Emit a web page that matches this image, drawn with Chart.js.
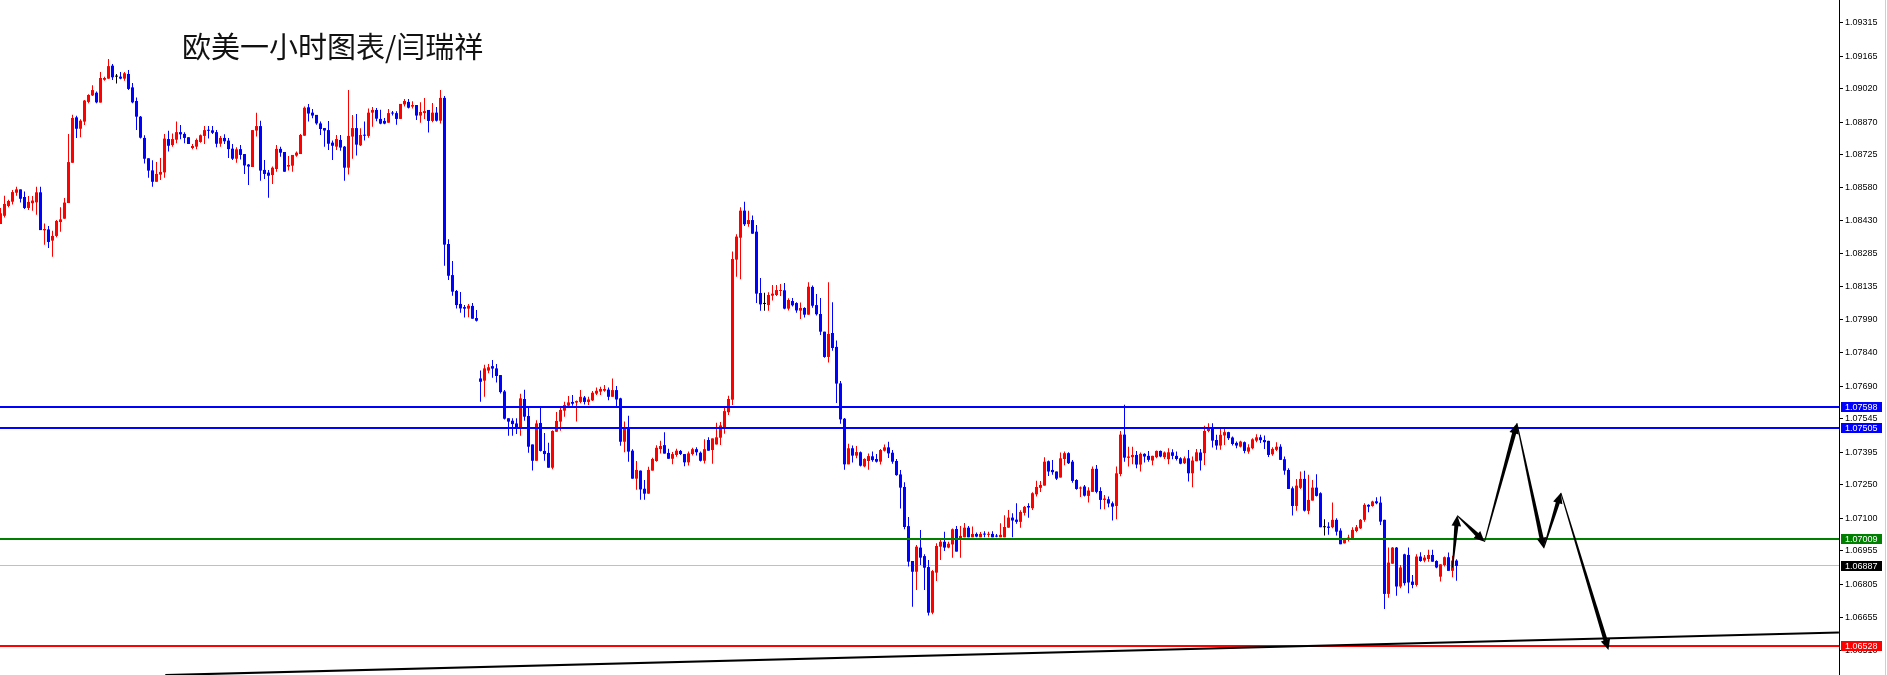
<!DOCTYPE html>
<html>
<head>
<meta charset="utf-8">
<script src="https://cdn.jsdelivr.net/npm/chart.js@4.4.1/dist/chart.umd.min.js"></script>
<style>
	html, body { margin: 0; padding: 0; background: #fff; overflow: hidden; }
	#wrap { width: 1887px; height: 675px; }
</style>
</head>
<body>
<div id="wrap"><canvas id="chart" width="1887" height="675"></canvas></div>
<script>
// EURUSD H1 candles (one candle per hour)
const opens = [
1.08415,1.08452,1.08496,1.08515,1.08555,1.08570,1.08536,1.08487,1.08508,1.08512,
1.08557,1.08387,1.08391,1.08341,1.08362,1.08424,1.08439,1.08509,1.08689,1.08892,
1.08841,1.08873,1.08961,1.08990,1.09002,1.08958,1.09060,1.09065,1.09123,1.09074,
1.09074,1.09065,1.09086,1.09026,1.08965,1.08895,1.08800,1.08709,1.08655,1.08604,
1.08636,1.08646,1.08795,1.08768,1.08792,1.08826,1.08818,1.08803,1.08755,1.08761,
1.08782,1.08809,1.08835,1.08834,1.08826,1.08774,1.08800,1.08788,1.08752,1.08707,
1.08750,1.08728,1.08681,1.08670,1.08833,1.08853,1.08657,1.08645,1.08634,1.08661,
1.08751,1.08737,1.08672,1.08676,1.08721,1.08728,1.08810,1.08937,1.08913,1.08903,
1.08865,1.08844,1.08835,1.08779,1.08761,1.08791,1.08761,1.08667,1.08806,1.08844,
1.08767,1.08813,1.08809,1.08913,1.08925,1.08885,1.08876,1.08868,1.08911,1.08911,
1.08885,1.08950,1.08961,1.08940,1.08947,1.08900,1.08911,1.08925,1.08876,1.08913,
1.08877,1.08979,1.08326,1.08187,1.08116,1.08058,1.08044,1.08037,1.08049,1.07995,
1.07725,1.07715,1.07760,1.07780,1.07770,1.07740,1.07667,1.07547,1.07536,1.07524,
1.07506,1.07633,1.07557,1.07430,1.07357,1.07526,1.07401,1.07392,1.07326,1.07487,
1.07532,1.07581,1.07603,1.07620,1.07617,1.07620,1.07640,1.07620,1.07627,1.07657,
1.07666,1.07670,1.07675,1.07643,1.07673,1.07636,1.07442,1.07502,1.07402,1.07277,
1.07313,1.07232,1.07210,1.07313,1.07356,1.07409,1.07427,1.07392,1.07366,1.07383,
1.07401,1.07387,1.07350,1.07387,1.07409,1.07393,1.07357,1.07450,1.07405,1.07430,
1.07460,1.07505,1.07574,1.07630,1.08256,1.08354,1.08475,1.08415,1.08433,1.08381,
1.08107,1.08058,1.08053,1.08095,1.08098,1.08116,1.08119,1.08037,1.08071,1.08062,
1.08028,1.08040,1.08010,1.08134,1.08053,1.08013,1.07934,1.07821,1.07928,1.07866,
1.07703,1.07545,1.07341,1.07413,1.07380,1.07395,1.07332,1.07356,1.07377,1.07365,
1.07353,1.07402,1.07417,1.07393,1.07356,1.07296,1.07240,1.07065,1.06909,1.06861,
1.06969,1.06931,1.06882,1.06678,1.06857,1.06973,1.06995,1.06969,1.06983,1.07052,
1.07010,1.07015,1.07058,1.07015,1.07030,1.07015,1.07030,1.07026,1.07030,1.07021,
1.07015,1.07015,1.07058,1.07103,1.07094,1.07084,1.07124,1.07155,1.07145,1.07207,
1.07236,1.07246,1.07355,1.07316,1.07309,1.07282,1.07365,1.07391,1.07353,1.07271,
1.07233,1.07242,1.07200,1.07218,1.07321,1.07222,1.07182,1.07185,1.07167,1.07155,
1.07298,1.07474,1.07370,1.07373,1.07383,1.07340,1.07388,1.07379,1.07358,1.07373,
1.07401,1.07373,1.07364,1.07395,1.07379,1.07368,1.07346,1.07368,1.07301,1.07355,
1.07394,1.07391,1.07490,1.07505,1.07450,1.07425,1.07470,1.07485,1.07461,1.07437,
1.07420,1.07440,1.07398,1.07413,1.07447,1.07462,1.07450,1.07446,1.07386,1.07406,
1.07420,1.07364,1.07316,1.07234,1.07155,1.07236,1.07276,1.07133,1.07179,1.07237,
1.07212,1.07060,1.07063,1.07060,1.07093,1.07045,1.06988,1.07003,1.07011,1.07043,
1.07055,1.07093,1.07160,1.07155,1.07176,1.07170,1.07093,1.06762,1.06897,1.06969,
1.06795,1.06939,1.06936,1.06817,1.06802,1.06929,1.06911,1.06918,1.06936,1.06909,
1.06839,1.06891,1.06926,1.06865,1.06911
];
const highs = [
1.08487,1.08542,1.08524,1.08567,1.08582,1.08570,1.08561,1.08540,1.08540,1.08582,
1.08582,1.08418,1.08406,1.08385,1.08433,1.08490,1.08531,1.08818,1.08904,1.08899,
1.08883,1.08969,1.08995,1.09035,1.09008,1.09095,1.09074,1.09153,1.09130,1.09086,
1.09095,1.09095,1.09104,1.09045,1.08981,1.08898,1.08812,1.08709,1.08700,1.08692,
1.08710,1.08818,1.08832,1.08820,1.08873,1.08858,1.08825,1.08803,1.08773,1.08797,
1.08815,1.08853,1.08853,1.08853,1.08835,1.08809,1.08816,1.08800,1.08773,1.08758,
1.08768,1.08728,1.08684,1.08835,1.08913,1.08877,1.08701,1.08657,1.08672,1.08768,
1.08761,1.08737,1.08719,1.08724,1.08739,1.08818,1.08940,1.08952,1.08929,1.08903,
1.08873,1.08844,1.08876,1.08788,1.08813,1.08813,1.08764,1.09014,1.08903,1.08907,
1.08843,1.08873,1.08931,1.08938,1.08934,1.08926,1.08889,1.08929,1.08920,1.08919,
1.08952,1.08974,1.08974,1.08964,1.08947,1.08959,1.08979,1.08925,1.08956,1.08938,
1.09014,1.08987,1.08347,1.08250,1.08120,1.08111,1.08053,1.08058,1.08062,1.08031,
1.07760,1.07786,1.07789,1.07807,1.07789,1.07740,1.07673,1.07547,1.07547,1.07547,
1.07657,1.07675,1.07602,1.07430,1.07538,1.07596,1.07481,1.07438,1.07494,1.07575,
1.07593,1.07621,1.07646,1.07651,1.07626,1.07673,1.07646,1.07643,1.07669,1.07685,
1.07688,1.07696,1.07685,1.07725,1.07691,1.07639,1.07532,1.07558,1.07409,1.07356,
1.07313,1.07271,1.07330,1.07371,1.07426,1.07447,1.07485,1.07411,1.07396,1.07411,
1.07405,1.07387,1.07398,1.07415,1.07418,1.07398,1.07453,1.07462,1.07457,1.07527,
1.07530,1.07602,1.07648,1.08292,1.08369,1.08490,1.08515,1.08475,1.08453,1.08411,
1.08174,1.08108,1.08110,1.08143,1.08143,1.08147,1.08152,1.08083,1.08085,1.08065,
1.08064,1.08043,1.08155,1.08140,1.08102,1.08085,1.07934,1.08155,1.08065,1.07895,
1.07714,1.07548,1.07433,1.07425,1.07423,1.07398,1.07368,1.07390,1.07398,1.07387,
1.07410,1.07430,1.07442,1.07405,1.07365,1.07316,1.07261,1.07106,1.06909,1.06980,
1.07048,1.06939,1.06913,1.06869,1.06988,1.07003,1.07040,1.06995,1.07054,1.07065,
1.07065,1.07079,1.07066,1.07063,1.07036,1.07039,1.07042,1.07040,1.07042,1.07030,
1.07078,1.07113,1.07137,1.07122,1.07167,1.07136,1.07155,1.07167,1.07216,1.07268,
1.07267,1.07373,1.07358,1.07361,1.07309,1.07394,1.07398,1.07395,1.07361,1.07274,
1.07242,1.07249,1.07239,1.07331,1.07338,1.07239,1.07204,1.07197,1.07175,1.07331,
1.07490,1.07607,1.07420,1.07420,1.07401,1.07394,1.07391,1.07401,1.07379,1.07403,
1.07403,1.07398,1.07413,1.07408,1.07398,1.07373,1.07376,1.07405,1.07376,1.07410,
1.07410,1.07513,1.07525,1.07525,1.07473,1.07499,1.07499,1.07487,1.07465,1.07443,
1.07446,1.07443,1.07431,1.07458,1.07476,1.07473,1.07470,1.07446,1.07417,1.07440,
1.07431,1.07376,1.07324,1.07242,1.07276,1.07309,1.07312,1.07294,1.07271,1.07297,
1.07216,1.07096,1.07082,1.07170,1.07100,1.07055,1.07011,1.07026,1.07060,1.07070,
1.07097,1.07167,1.07163,1.07178,1.07194,1.07197,1.07093,1.06969,1.06972,1.06972,
1.06891,1.06942,1.06969,1.06847,1.06939,1.06948,1.06936,1.06959,1.06959,1.06912,
1.06894,1.06929,1.06947,1.06932,1.06917
];
const lows = [
1.08415,1.08444,1.08490,1.08503,1.08542,1.08511,1.08482,1.08478,1.08475,1.08457,
1.08388,1.08323,1.08308,1.08269,1.08356,1.08381,1.08439,1.08509,1.08689,1.08800,
1.08803,1.08858,1.08955,1.08987,1.08955,1.08958,1.09056,1.09065,1.09059,1.09043,
1.09062,1.09056,1.09014,1.08955,1.08835,1.08797,1.08686,1.08622,1.08582,1.08604,
1.08612,1.08622,1.08739,1.08761,1.08776,1.08794,1.08776,1.08773,1.08749,1.08749,
1.08779,1.08773,1.08797,1.08818,1.08758,1.08761,1.08773,1.08710,1.08701,1.08689,
1.08704,1.08639,1.08590,1.08670,1.08806,1.08609,1.08616,1.08533,1.08594,1.08649,
1.08716,1.08649,1.08654,1.08649,1.08716,1.08728,1.08810,1.08873,1.08888,1.08859,
1.08813,1.08761,1.08746,1.08701,1.08746,1.08743,1.08609,1.08636,1.08707,1.08721,
1.08764,1.08788,1.08801,1.08850,1.08874,1.08861,1.08861,1.08868,1.08900,1.08859,
1.08885,1.08940,1.08932,1.08931,1.08880,1.08868,1.08885,1.08824,1.08870,1.08873,
1.08865,1.08229,1.08165,1.08095,1.08038,1.08019,1.07997,1.07998,1.07992,1.07979,
1.07621,1.07643,1.07748,1.07728,1.07707,1.07658,1.07542,1.07469,1.07469,1.07477,
1.07469,1.07536,1.07393,1.07313,1.07357,1.07398,1.07357,1.07326,1.07319,1.07487,
1.07491,1.07554,1.07599,1.07603,1.07532,1.07614,1.07609,1.07606,1.07624,1.07651,
1.07651,1.07666,1.07628,1.07643,1.07602,1.07424,1.07395,1.07353,1.07277,1.07228,
1.07183,1.07183,1.07210,1.07313,1.07353,1.07390,1.07389,1.07366,1.07341,1.07375,
1.07383,1.07332,1.07336,1.07381,1.07381,1.07354,1.07345,1.07402,1.07344,1.07430,
1.07427,1.07478,1.07562,1.07606,1.08180,1.08168,1.08406,1.08403,1.08372,1.08062,
1.08028,1.08028,1.08028,1.08073,1.08094,1.08094,1.08034,1.08029,1.08046,1.08019,
1.07991,1.07997,1.08010,1.08041,1.08006,1.07919,1.07818,1.07796,1.07849,1.07615,
1.07523,1.07317,1.07341,1.07349,1.07368,1.07331,1.07328,1.07317,1.07353,1.07349,
1.07340,1.07398,1.07369,1.07344,1.07290,1.07144,1.07051,1.06884,1.06705,1.06779,
1.06891,1.06779,1.06665,1.06671,1.06820,1.06913,1.06954,1.06966,1.06924,1.06951,
1.06924,1.07015,1.07015,1.07015,1.07015,1.07015,1.07015,1.07015,1.07015,1.07015,
1.07015,1.07015,1.07058,1.07015,1.07076,1.07058,1.07112,1.07102,1.07137,1.07197,
1.07218,1.07246,1.07289,1.07294,1.07271,1.07282,1.07337,1.07343,1.07259,1.07227,
1.07195,1.07197,1.07170,1.07218,1.07212,1.07140,1.07140,1.07149,1.07090,1.07096,
1.07288,1.07353,1.07331,1.07341,1.07324,1.07309,1.07349,1.07353,1.07337,1.07368,
1.07373,1.07365,1.07341,1.07364,1.07358,1.07341,1.07343,1.07264,1.07239,1.07355,
1.07313,1.07338,1.07485,1.07416,1.07406,1.07406,1.07428,1.07450,1.07425,1.07413,
1.07416,1.07391,1.07388,1.07409,1.07440,1.07437,1.07410,1.07374,1.07380,1.07401,
1.07361,1.07294,1.07231,1.07112,1.07134,1.07231,1.07130,1.07118,1.07179,1.07197,
1.07060,1.07023,1.07026,1.07055,1.07023,1.06984,1.06987,1.06996,1.07008,1.07038,
1.07052,1.07085,1.07127,1.07152,1.07163,1.07070,1.06695,1.06745,1.06897,1.06754,
1.06787,1.06799,1.06765,1.06787,1.06795,1.06906,1.06903,1.06906,1.06906,1.06877,
1.06817,1.06884,1.06865,1.06836,1.06821
];
const closes = [
1.08463,1.08505,1.08518,1.08558,1.08570,1.08528,1.08487,1.08514,1.08520,1.08557,
1.08388,1.08393,1.08335,1.08362,1.08429,1.08436,1.08511,1.08692,1.08889,1.08841,
1.08877,1.08967,1.08992,1.09014,1.08959,1.09068,1.09068,1.09121,1.09071,1.09074,
1.09065,1.09089,1.09019,1.08959,1.08895,1.08801,1.08707,1.08654,1.08604,1.08639,
1.08648,1.08797,1.08765,1.08795,1.08826,1.08816,1.08800,1.08773,1.08764,1.08791,
1.08812,1.08835,1.08832,1.08823,1.08774,1.08800,1.08785,1.08750,1.08707,1.08749,
1.08724,1.08677,1.08672,1.08835,1.08853,1.08654,1.08639,1.08631,1.08667,1.08751,
1.08734,1.08649,1.08679,1.08724,1.08734,1.08813,1.08935,1.08909,1.08900,1.08865,
1.08840,1.08833,1.08774,1.08765,1.08795,1.08757,1.08667,1.08809,1.08844,1.08770,
1.08813,1.08810,1.08913,1.08925,1.08886,1.08864,1.08864,1.08911,1.08909,1.08885,
1.08952,1.08965,1.08935,1.08947,1.08900,1.08916,1.08920,1.08876,1.08913,1.08877,
1.08979,1.08323,1.08184,1.08113,1.08053,1.08038,1.08037,1.08050,1.07992,1.07983,
1.07710,1.07770,1.07775,1.07769,1.07736,1.07664,1.07545,1.07532,1.07521,1.07505,
1.07636,1.07554,1.07420,1.07357,1.07524,1.07401,1.07387,1.07326,1.07490,1.07535,
1.07584,1.07606,1.07618,1.07612,1.07624,1.07643,1.07620,1.07631,1.07661,1.07670,
1.07678,1.07678,1.07643,1.07673,1.07631,1.07442,1.07502,1.07398,1.07277,1.07316,
1.07229,1.07210,1.07316,1.07365,1.07415,1.07423,1.07389,1.07366,1.07387,1.07402,
1.07387,1.07350,1.07390,1.07409,1.07395,1.07357,1.07409,1.07402,1.07457,1.07462,
1.07515,1.07579,1.07633,1.08259,1.08359,1.08475,1.08414,1.08433,1.08372,1.08104,
1.08056,1.08058,1.08098,1.08104,1.08120,1.08119,1.08037,1.08076,1.08052,1.08029,
1.08040,1.08010,1.08135,1.08050,1.08012,1.07934,1.07821,1.07924,1.07861,1.07702,
1.07542,1.07341,1.07413,1.07380,1.07396,1.07335,1.07365,1.07378,1.07360,1.07353,
1.07405,1.07417,1.07390,1.07353,1.07293,1.07237,1.07061,1.06906,1.06861,1.06973,
1.06924,1.06879,1.06678,1.06864,1.06976,1.06995,1.06969,1.06986,1.07051,1.06951,
1.07021,1.07058,1.07015,1.07030,1.07018,1.07030,1.07027,1.07030,1.07015,1.07018,
1.07026,1.07061,1.07103,1.07090,1.07084,1.07128,1.07151,1.07148,1.07212,1.07240,
1.07249,1.07353,1.07309,1.07306,1.07277,1.07368,1.07391,1.07346,1.07267,1.07231,
1.07237,1.07201,1.07224,1.07321,1.07218,1.07182,1.07188,1.07166,1.07152,1.07301,
1.07474,1.07371,1.07376,1.07383,1.07340,1.07388,1.07376,1.07361,1.07379,1.07401,
1.07376,1.07394,1.07395,1.07379,1.07365,1.07344,1.07368,1.07301,1.07358,1.07395,
1.07358,1.07490,1.07508,1.07447,1.07425,1.07473,1.07485,1.07458,1.07432,1.07425,
1.07443,1.07401,1.07417,1.07453,1.07462,1.07449,1.07440,1.07383,1.07410,1.07420,
1.07361,1.07313,1.07231,1.07155,1.07246,1.07276,1.07134,1.07182,1.07237,1.07200,
1.07060,1.07060,1.07057,1.07093,1.07040,1.06984,1.07003,1.07014,1.07048,1.07060,
1.07093,1.07160,1.07152,1.07175,1.07167,1.07085,1.06762,1.06902,1.06969,1.06795,
1.06880,1.06810,1.06813,1.06802,1.06929,1.06909,1.06924,1.06936,1.06906,1.06880,
1.06894,1.06926,1.06865,1.06911,1.06887
];

// price axis labels (MT4 style, right side)
const tickValues = [1.09315, 1.09165, 1.09020, 1.08870, 1.08725, 1.08580, 1.08430, 1.08285, 1.08135, 1.07990,
	1.07840, 1.07690, 1.07545, 1.07395, 1.07250, 1.07100, 1.06955, 1.06805, 1.06655, 1.06510];

// horizontal levels + price tags
const levelPrices = [1.07598, 1.07505, 1.07009, 1.06887, 1.06528];
const levelColors = ['#0000ff', '#0000ff', '#008000', '#c0c0c0', '#ff0000'];
const levelTagColors = ['#0000ff', '#0000ff', '#008000', '#000000', '#ff0000'];

// trendline under the lows (candle index, price)
const trendIdx = [41.2, 459.6];
const trendPrice = [1.06399, 1.06590];

// hand drawn forecast arrows
const arrowIdx = [363.0, 364.2, 371.0, 379.1, 385.8, 390.1, 402.0];
const arrowPrice = [1.06880, 1.07112, 1.06995, 1.07525, 1.06966, 1.07214, 1.06511];

const titleText = '欧美一小时图表/闫瑞祥';

const candleColors = closes.map((c, i) => (c > opens[i] ? '#ff0000' : c < opens[i] ? '#0000ff' : '#000000'));

const overlayPlugin = {
	id: 'overlay',
	beforeDatasetsDraw(chart) {
		const { ctx, chartArea, scales } = chart;
		// bid line sits behind the candles
		const y = Math.floor(scales.y.getPixelForValue(levelPrices[3]));
		ctx.save();
		ctx.fillStyle = levelColors[3];
		ctx.fillRect(chartArea.left, y, chartArea.right - chartArea.left, 1);
		ctx.restore();
	},
	afterDatasetsDraw(chart) {
		const { ctx, chartArea, scales } = chart;
		const xs = scales.x;
		const ys = scales.y;
		ctx.save();
		ctx.beginPath();
		ctx.rect(chartArea.left, chartArea.top, chartArea.right - chartArea.left, chartArea.bottom - chartArea.top);
		ctx.clip();

		for (let i = 0; i < levelPrices.length; i++) {
			if (i === 3) continue;
			const y = Math.round(ys.getPixelForValue(levelPrices[i]));
			ctx.fillStyle = levelColors[i];
			ctx.fillRect(chartArea.left, y - 1, chartArea.right - chartArea.left, 2);
		}

		// trendline
		ctx.strokeStyle = '#000';
		ctx.lineWidth = 2;
		ctx.beginPath();
		ctx.moveTo(xs.getPixelForValue(trendIdx[0]), ys.getPixelForValue(trendPrice[0]));
		ctx.lineTo(xs.getPixelForValue(trendIdx[1]), ys.getPixelForValue(trendPrice[1]));
		ctx.stroke();

		// arrows: tapered shaft + head
		ctx.fillStyle = '#000';
		for (let k = 0; k < arrowIdx.length - 1; k++) {
			const x0 = xs.getPixelForValue(arrowIdx[k]);
			const y0 = ys.getPixelForValue(arrowPrice[k]);
			const x1 = xs.getPixelForValue(arrowIdx[k + 1]);
			const y1 = ys.getPixelForValue(arrowPrice[k + 1]);
			const len = Math.hypot(x1 - x0, y1 - y0);
			const ux = (x1 - x0) / len;
			const uy = (y1 - y0) / len;
			const nx = -uy;
			const ny = ux;
			const headLen = 10.5;
			const headW = 4.8;
			const bx = x1 - ux * headLen;
			const by = y1 - uy * headLen;
			ctx.beginPath();
			ctx.moveTo(x0 + nx * 0.5, y0 + ny * 0.5);
			ctx.lineTo(bx + ux * 2 + nx * 2.1, by + uy * 2 + ny * 2.1);
			ctx.lineTo(bx + ux * 2 - nx * 2.1, by + uy * 2 - ny * 2.1);
			ctx.lineTo(x0 - nx * 0.5, y0 - ny * 0.5);
			ctx.closePath();
			ctx.fill();
			ctx.beginPath();
			ctx.moveTo(x1, y1);
			ctx.lineTo(bx + nx * headW, by + ny * headW);
			ctx.lineTo(bx - nx * headW, by - ny * headW);
			ctx.closePath();
			ctx.fill();
		}
		ctx.restore();
	},
	afterDraw(chart) {
		const { ctx, chartArea, scales } = chart;
		ctx.save();
		// price tags on the axis
		ctx.font = '9px "Liberation Sans"';
		ctx.textBaseline = 'middle';
		ctx.textAlign = 'left';
		for (let i = 0; i < levelPrices.length; i++) {
			const y = Math.round(scales.y.getPixelForValue(levelPrices[i]));
			ctx.fillStyle = levelTagColors[i];
			ctx.fillRect(chartArea.right + 2, y - 5, 41, 10);
			ctx.fillStyle = '#fff';
			ctx.fillText(levelPrices[i].toFixed(5), chartArea.right + 6, y + 0.5);
		}
		// window edge
		ctx.fillStyle = '#cfcfcf';
		ctx.fillRect(1885, 0, 1, 675);
		// title
		ctx.fillStyle = '#111';
		ctx.font = '29px "Noto Sans CJK SC"';
		ctx.textBaseline = 'middle';
		ctx.fillText(titleText, 182, 47);
		ctx.restore();
	}
};

const createChart = function () {
	const wickData = lows.map((l, i) => ({ x: i, y: [l, highs[i]] }));
	const bodyData = opens.map((o, i) => ({ x: i, y: [o, closes[i]] }));

	const config = {
		type: 'bar',
		data: {
			datasets: [
				{
					label: 'wick',
					data: wickData,
					backgroundColor: candleColors,
					barThickness: 1,
					grouped: false,
					inflateAmount: 0,
					order: 2,
				},
				{
					label: 'body',
					data: bodyData,
					backgroundColor: candleColors,
					barThickness: 3,
					grouped: false,
					inflateAmount: 0,
					minBarLength: 1,
					order: 1,
				},
			],
		},
		options: {
			responsive: false,
			animation: false,
			devicePixelRatio: 1,
			layout: { padding: 0 },
			plugins: {
				legend: { display: false },
				tooltip: { enabled: false },
			},
			scales: {
				x: {
					type: 'linear',
					display: false,
					offset: false,
					min: -0.125,
					max: 459.625,
				},
				y: {
					type: 'linear',
					position: 'right',
					min: 1.063995,
					max: 1.094165,
					border: { display: true, color: '#000', width: 1 },
					grid: { display: true, drawOnChartArea: false, drawTicks: true, tickLength: 4, tickColor: '#000' },
					ticks: {
						autoSkip: false,
						padding: 2,
						color: '#000',
						font: { family: 'Liberation Sans', size: 9 },
						callback: (v) => Number(v).toFixed(5),
					},
					afterBuildTicks: (scale) => {
						scale.ticks = tickValues.map((v) => ({ value: v }));
					},
					afterFit: (scale) => {
						scale.width = 48;
						scale.paddingTop = 0;
						scale.paddingBottom = 0;
					},
				},
			},
		},
		plugins: [overlayPlugin],
	};

	const ctx = document.querySelector('#chart');
	const myChart = new Chart(ctx, config);
};

document.addEventListener('DOMContentLoaded', createChart);
</script>
</body>
</html>
